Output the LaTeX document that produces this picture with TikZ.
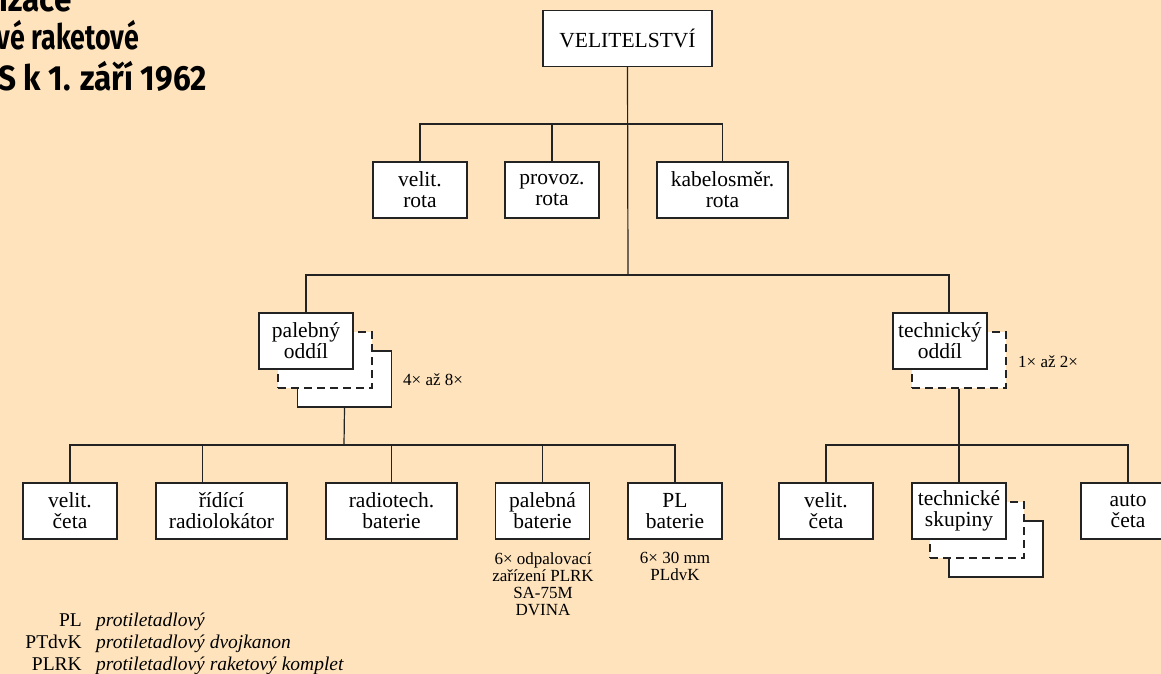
\documentclass[tikz,border=0pt]{standalone}
\usepackage{fontspec}
\setmainfont{Liberation Serif}
\newfontfamily\titlefont{Fira Sans}[FakeStretch=0.9]
\usetikzlibrary{positioning, calc}
\definecolor{paper}{RGB}{254,227,189}
\definecolor{ink}{RGB}{35,35,35}
\newcommand{\boxfont}{\fontsize{21.5}{21}\selectfont}
\newcommand{\notefont}{\fontsize{17}{17}\selectfont}
\newcommand{\legfont}{\fontsize{19.5}{23}\selectfont}

\begin{document}
\begin{tikzpicture}[x=1pt, y=-1pt,
  box/.style={draw=ink, fill=white, line width=1.2pt, minimum width=94pt,
              minimum height=56pt, inner sep=2pt, align=center, font=\boxfont},
  wide/.style={minimum width=131pt},
  copybox/.style={box},
  dashbox/.style={box, dash pattern=on 8pt off 5pt},
  conn/.style={draw=ink, line width=1.2pt},
  note/.style={align=center, font=\notefont, inner sep=0pt},
  abbr/.style={font=\legfont, inner sep=0pt, anchor=base east},
  expl/.style={font=\legfont\itshape, inner sep=0pt, anchor=base west},
  heading/.style={font=\titlefont\bfseries\fontsize{35}{38}\selectfont,
                  inner sep=0pt, anchor=base east}
]
\useasboundingbox (0,0) rectangle (1161,674);
\fill[paper] (0,0) rectangle (1161,674);

%--- Title (cut at the left edge) ---
\node[heading] (t1) at (72,12)  {nizace};
\node[heading] (t2) at (139,50) {\scalebox{0.85}[1]{vé raketové}};
\node[heading] (t3) at (207,91) {S k 1. září 1962};

%--- Command and companies ---
\node[box, minimum width=169pt] (cmd) at (627.5,38.5) {VELITELSTVÍ};
\node[box]       (vrota) at (420,190)   {velit.\\rota};
\node[box]       (prota) at (552,190)   {provoz.\\rota};
\node[box, wide] (krota) at (722.5,190) {kabelosměr.\\rota};

%--- Battalions (stacked copies behind) ---
\node[copybox] (pal3) at (344.5,379) {};
\node[dashbox] (pal2) at (325,360)   {};
\node[box]     (pal)  at (306,341)   {palebný\\oddíl};
\node[note, anchor=west] (palcount) at (403,380) {4× až 8×};

\node[dashbox] (tech2) at (959,360) {};
\node[box]     (tech)  at (940,341) {technický\\oddíl};
\node[note, anchor=west] (techcount) at (1018,362) {1× až 2×};

%--- Batteries ---
\node[box]       (vceta) at (70,511)    {velit.\\četa};
\node[box, wide] (radar) at (221.5,511) {řídící\\radiolokátor};
\node[box, wide] (rtbat) at (391.5,511) {radiotech.\\baterie};
\node[box]       (pbat)  at (542.5,511) {palebná\\baterie};
\node[box]       (plbat) at (675,511)   {PL\\baterie};

\node[box]     (vceta2) at (826,511)  {velit.\\četa};
\node[copybox] (tsk3)   at (996,549)  {};
\node[dashbox] (tsk2)   at (977,530)  {};
\node[box]     (tsk)    at (959,511)  {technické\\skupiny};
\node[box]     (auto)   at (1128,511) {auto\\četa};

%--- Notes under batteries ---
\node[note, anchor=north] (pbatnote) at (543,552)
  {6× odpalovací\\zařízení PLRK\\SA-75M\\DVINA};
\node[note, anchor=north] (plnote) at (675,552) {6× 30 mm\\PLdvK};

%--- Junctions ---
\coordinate (j1) at (628,124);
\coordinate (j2) at (628,275);
\coordinate (j3) at (344,445);
\coordinate (j4) at (959,445);
\coordinate (techtop) at ([xshift=9pt]tech.north);
\coordinate (radtop) at ([xshift=-19pt]radar.north);

%--- Connectors ---
\draw[conn] (cmd.south) -- (j2);
\draw[conn] (vrota.north) |- (j1) -| (krota.north);
\draw[conn] (prota.north) -- (prota.north |- j1);
\draw[conn] (pal.north) |- (j2) -| (techtop);

\draw[conn] (pal3.south) -- (j3);
\draw[conn] (vceta.north) |- (j3) -| (plbat.north);
\draw[conn] (radtop) -- (radtop |- j3);
\draw[conn] (rtbat.north) -- (rtbat.north |- j3);
\draw[conn] (pbat.north) -- (pbat.north |- j3);

\draw[conn] (tech2.south) -- (j4);
\draw[conn] (vceta2.north) |- (j4) -| (auto.north);
\draw[conn] (j4) -- (tsk.north);

%--- Legend ---
\node[abbr] (lpl)    at (82,626) {PL};
\node[expl] (lplx)   at (96,626) {protiletadlový};
\node[abbr] (lptdvk) at (82,648) {PTdvK};
\node[expl] (lptdvkx) at (96,648) {protiletadlový dvojkanon};
\node[abbr] (lplrk)  at (82,670) {PLRK};
\node[expl] (lplrkx) at (96,670) {protiletadlový raketový komplet};

\end{tikzpicture}
\end{document}
